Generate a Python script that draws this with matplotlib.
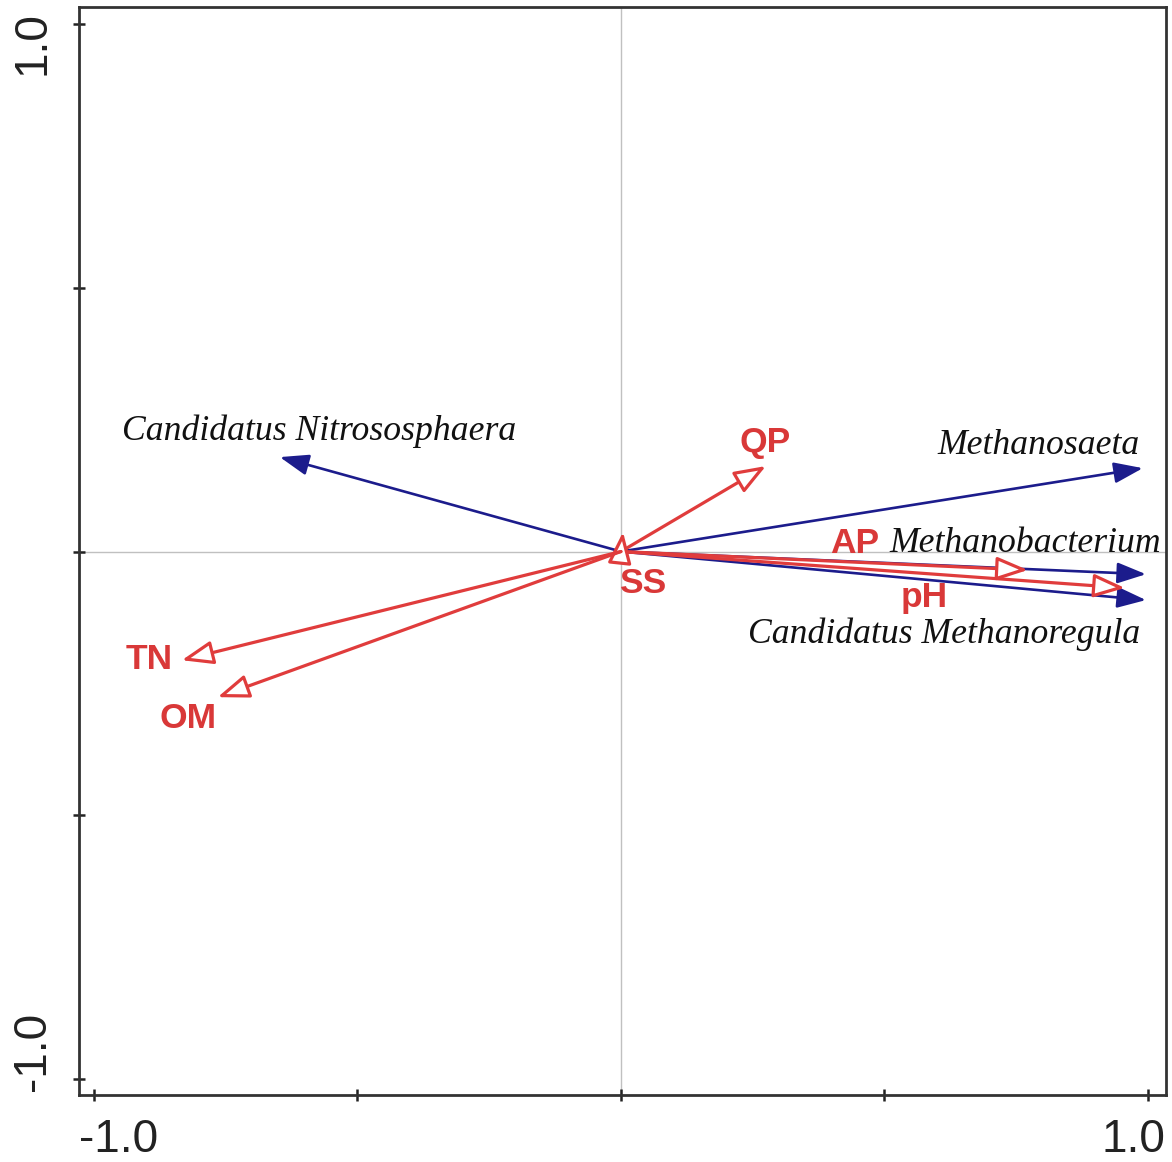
import matplotlib
matplotlib.use("Agg")
import matplotlib.pyplot as plt
from matplotlib.patches import FancyArrowPatch

# Species (blue, filled heads)
species = ["Candidatus Nitrososphaera", "Methanosaeta", "Methanobacterium", "Candidatus Methanoregula"]
species_x = [-0.647, 0.990, 0.996, 0.996]
species_y = [0.179, 0.158, -0.043, -0.092]
species_lab_x = [-0.947, 0.985, 0.509, 0.985]
species_lab_y = [0.228, 0.200, 0.016, -0.156]
species_ha = ["left", "right", "left", "right"]

# Environmental variables (red, hollow heads)
env = ["QP", "AP", "pH", "SS", "TN", "OM"]
env_x = [0.275, 0.772, 0.956, 0.004, -0.833, -0.765]
env_y = [0.162, -0.035, -0.069, 0.037, -0.206, -0.276]
env_lab_x = [0.273, 0.444, 0.576, 0.042, -0.895, -0.822]
env_lab_y = [0.206, 0.016, -0.088, -0.060, -0.204, -0.316]

tick_vals = [-1.0, -0.5, 0.0, 0.5, 1.0]
label_vals = [-1.0, 1.0]
label_text = ["-1.0", "1.0"]
# label offsets along the axis, in points
x_label_shift = [17.6, -10.8]
y_label_shift = [20.2, -14.0]

BLUE = "#1c1c8c"
RED = "#e03c3c"
RED_TXT = "#d93838"

fig = plt.figure(figsize=(11.72, 11.62), dpi=100)
ax = fig.add_axes([79/1172, 1-1095/1162, (1166-79)/1172, (1095-7)/1162])
ax.set_xlim(-1.028, 1.034)
ax.set_ylim(-1.030, 1.032)

ax.axhline(0, color="#c0c0c0", lw=1.0, zorder=1)
ax.axvline(0, color="#c0c0c0", lw=1.0, zorder=1)

for x, y in zip(species_x, species_y):
    a = FancyArrowPatch((0, 0), (x, y), arrowstyle="-|>,head_length=1.1,head_width=0.4",
                        mutation_scale=16, color=BLUE, lw=1.9, shrinkA=0, shrinkB=0, zorder=3)
    ax.add_patch(a)

for x, y in zip(env_x, env_y):
    a = FancyArrowPatch((0, 0), (x, y), arrowstyle="-|>,head_length=1.2,head_width=0.45",
                        mutation_scale=16, fc="white", ec=RED, lw=2.3, shrinkA=0, shrinkB=0, zorder=4)
    ax.add_patch(a)

for name, x, y, ha in zip(species, species_lab_x, species_lab_y, species_ha):
    ax.text(x, y, name, ha=ha, va="center", fontsize=25.7, style="italic",
            family="Liberation Serif", color="#111111", zorder=5)

for name, x, y in zip(env, env_lab_x, env_lab_y):
    ax.text(x, y, name, ha="center", va="center", fontsize=25.5, fontweight="bold",
            family="Liberation Sans", color=RED_TXT, zorder=5)

ax.set_xticks(tick_vals)
ax.set_yticks(tick_vals)
ax.set_xticklabels([""] * len(tick_vals))
ax.set_yticklabels([""] * len(tick_vals))
ax.tick_params(direction="inout", length=9, width=1.8, colors="#222222")

for v, t, dx in zip(label_vals, label_text, x_label_shift):
    ax.annotate(t, xy=(v, 0), xycoords=("data", "axes fraction"), xytext=(dx, -16.5),
                textcoords="offset points", ha="center", va="top", fontsize=33,
                family="Liberation Sans", color="#222222", annotation_clip=False)
for v, t, dy in zip(label_vals, label_text, y_label_shift):
    ax.annotate(t, xy=(0, v), xycoords=("axes fraction", "data"), xytext=(-17.5, dy),
                textcoords="offset points", ha="right", va="center", rotation=90, fontsize=33,
                family="Liberation Sans", color="#222222", annotation_clip=False)

for s in ax.spines.values():
    s.set_linewidth(2.0)
    s.set_color("#333333")

fig.savefig("out.png", dpi=100)
